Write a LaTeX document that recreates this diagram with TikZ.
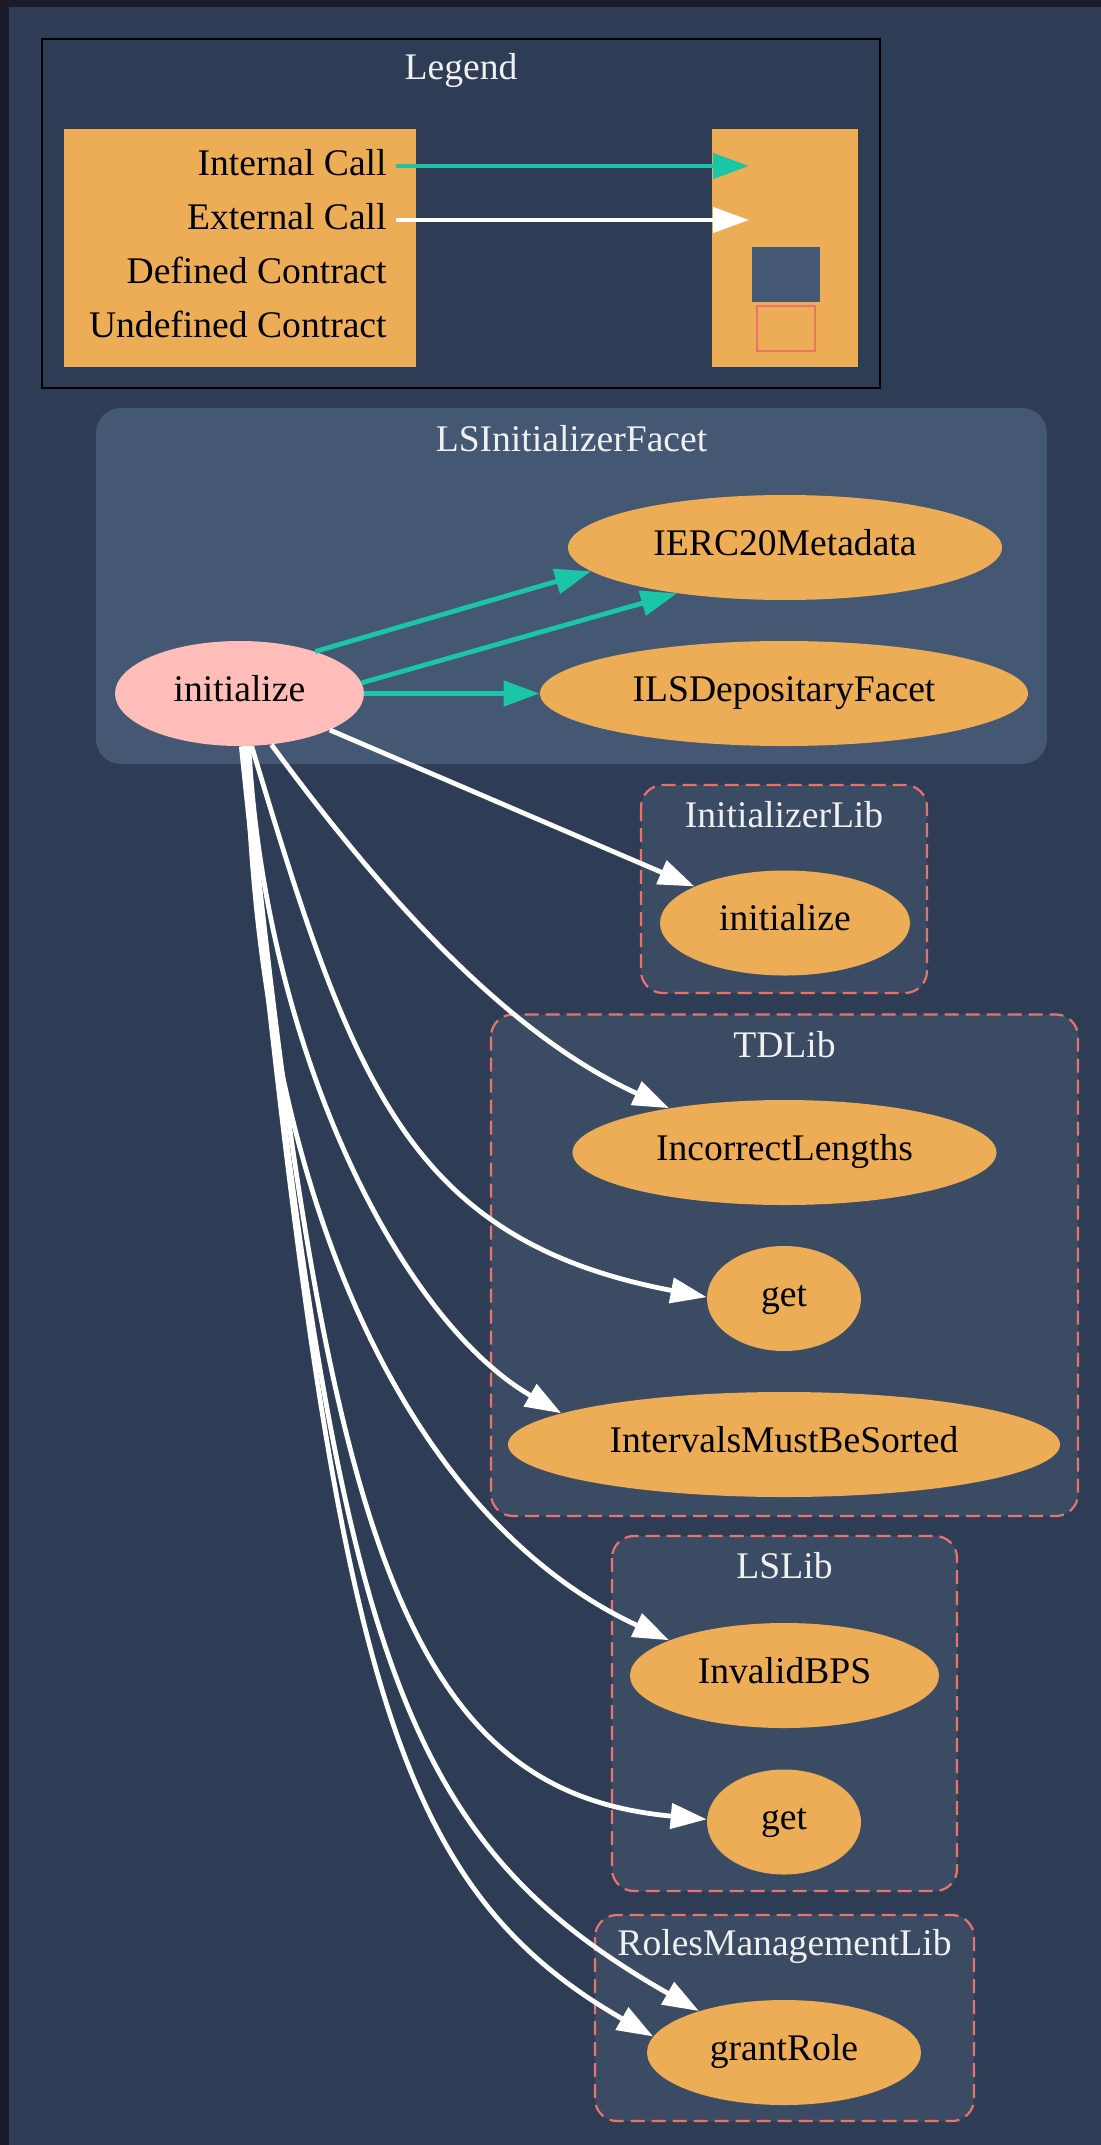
\documentclass[tikz,border=0pt]{standalone}
\usepackage{fontspec}
\setmainfont{Liberation Serif}
\usetikzlibrary{arrows.meta,shapes.geometric}

\definecolor{bgcol}{HTML}{2E3D55}
\definecolor{rimcol}{HTML}{1C1B29}
\definecolor{defcl}{HTML}{445773}
\definecolor{libcl}{HTML}{3B4B63}
\definecolor{dashcol}{HTML}{E8736C}
\definecolor{fnorange}{HTML}{EDAD56}
\definecolor{fnpink}{HTML}{FFBDB9}
\definecolor{intcall}{HTML}{1BC6A6}
\definecolor{titlecol}{HTML}{F0F0F0}

\newcommand\gvsize{\fontsize{18.8}{22}\selectfont}

\tikzset{
  fnnode/.style={ellipse, fill=fnorange, inner sep=0pt, minimum height=52.5pt,
    text height=10pt, text depth=2.4pt, font=\gvsize, text=black},
  rootfn/.style={fnnode, fill=fnpink},
  cltitle/.style={anchor=base, inner sep=0pt, font=\gvsize, text=titlecol},
  legtext/.style={anchor=base east, inner sep=0pt, font=\gvsize, text=black},
  libcluster/.style={fill=libcl, draw=dashcol, line width=1.1pt,
    dash pattern=on 7pt off 3.5pt, rounded corners=11pt},
  defcluster/.style={fill=defcl, rounded corners=12.5pt},
  callarrow/.style={line width=2.4pt, -{Triangle[length=18pt,width=12.5pt]}},
  intc/.style={callarrow, draw=intcall},
  extc/.style={callarrow, draw=white},
}

\begin{document}
\begin{tikzpicture}[x=0.5pt, y=-0.5pt]
  \useasboundingbox (0,0) rectangle (1101,2145);
  % canvas and window rim
  \fill[bgcol] (0,0) rectangle (1101,2145);
  \fill[rimcol] (0,0) rectangle (1101,7);
  \fill[rimcol] (0,0) rectangle (8.5,2145);

  % ---------- legend ----------
  \draw[black, line width=1.1pt] (42,39) rectangle (880,388);
  \node[cltitle] (legtitle) at (461,80) {Legend};
  \fill[fnorange] (64,129) rectangle (416,367);
  \fill[fnorange] (712,129) rectangle (858,367);
  \node[legtext] (lint) at (387,176) {Internal Call};
  \node[legtext] (lext) at (387,230) {External Call};
  \node[legtext] (ldef) at (387,283.5) {Defined Contract};
  \node[legtext] (lund) at (387,337) {Undefined Contract};
  \coordinate (lintA) at (396,166);
  \coordinate (lintB) at (749,166);
  \coordinate (lextA) at (396,220);
  \coordinate (lextB) at (749,220);
  \draw[intc] (lintA) -- (lintB);
  \draw[extc] (lextA) -- (lextB);
  \node[fill=defcl, minimum width=34pt, minimum height=27.5pt, inner sep=0pt]
    (defsq) at (786,274.5) {};
  \node[draw=dashcol, line width=1pt, minimum width=29pt, minimum height=22.5pt,
    inner sep=0pt] (undsq) at (786,328.5) {};

  % ---------- clusters ----------
  \fill[defcluster] (96,408) rectangle (1047,764);
  \node[cltitle] (tfacet) at (571.5,451) {LSInitializerFacet};

  \draw[libcluster] (641,785) rectangle (927,993);
  \node[cltitle] (tinit) at (784,827) {InitializerLib};

  \draw[libcluster] (491,1014.5) rectangle (1078,1516);
  \node[cltitle] (ttd) at (784.5,1057) {TDLib};

  \draw[libcluster] (612,1536) rectangle (957,1891);
  \node[cltitle] (tls) at (784.5,1578) {LSLib};

  \draw[libcluster] (595,1915) rectangle (974,2121);
  \node[cltitle] (trm) at (784.5,1955) {RolesManagementLib};

  % ---------- functions ----------
  \node[rootfn, minimum width=124.5pt] (fn) at (239.5,693.5) {initialize};
  \node[fnnode, minimum width=217pt] (ierc) at (785,547.5) {IERC20Metadata};
  \node[fnnode, minimum width=244pt] (dep) at (784,693.5) {ILSDepositaryFacet};
  \node[fnnode, minimum width=125pt] (ilinit) at (785,923) {initialize};
  \node[fnnode, minimum width=212pt] (inc) at (784.5,1152.5) {IncorrectLengths};
  \node[fnnode, minimum width=77pt] (tdget) at (784,1298.5) {get};
  \node[fnnode, minimum width=276pt] (ims) at (784,1444.5) {IntervalsMustBeSorted};
  \node[fnnode, minimum width=154.5pt] (bps) at (784.5,1675.5) {InvalidBPS};
  \node[fnnode, minimum width=77pt] (lsget) at (784,1822) {get};
  \node[fnnode, minimum width=137pt] (gr) at (784,2052.5) {grantRole};

  % ---------- internal calls ----------
  \draw[intc] (fn.29) -- (ierc.187);
  \draw[intc] (fn.5) -- (ierc.203.5);
  \draw[intc] (fn.east) -- (dep.west);

  % ---------- external calls ----------
  \draw[extc] (fn.-22) -- (ilinit.158);
  \draw[extc] (fn.-58) .. controls (400,920) and (520,1040) .. (inc.159);
  \draw[extc] (fn.-77) .. controls (352,1081) and (407,1240) .. (tdget.179);
  \draw[extc] (fn.-80) .. controls (265,1050) and (400,1320) .. (ims.172);
  \draw[extc] (fn.-82) .. controls (255,1200) and (410,1520) .. (bps.163);
  \draw[extc] (fn.-84) .. controls (325,1546) and (407,1792) .. (lsget.178);
  \draw[extc] (fn.-86) .. controls (333,1646) and (392,1836) .. (gr.154.5);
  \draw[extc] (fn.-88) .. controls (335,1650) and (380,1880) .. (gr.173);
\end{tikzpicture}
\end{document}
